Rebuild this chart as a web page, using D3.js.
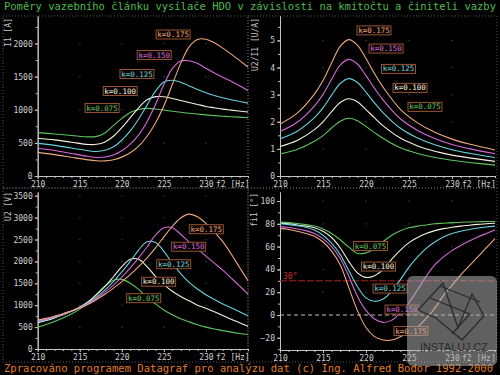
<!DOCTYPE html>
<html>
<head>
<meta charset="utf-8">
<script src="https://cdn.jsdelivr.net/npm/d3@7"></script>
<style>
body{margin:0;background:#000;}
svg{display:block;}
</style>
</head>
<body>
<div id="chart"></div>
<script>
// serie (cinitel vazby k)
var kLabels = ["k=0.075", "k=0.100", "k=0.125", "k=0.150", "k=0.175"];
var kColors = ["#5cc45c", "#f2f2dc", "#66d2dc", "#d468d8", "#f0a87c"];

// osa x - kmitocet f2 [Hz]
var xTicks = [210, 215, 220, 225, 230];

// I1 [A]
var freqI1 = [210,212,214,216,217,218,219,220,221,222,223,224,225,226,227,228,229,230,231,232,233,235];
var i1_075 = [655,635,612,590,598,650,760,870,960,1005,1020,1012,995,978,962,948,935,922,912,903,895,880];
var i1_100 = [570,545,510,475,478,515,600,730,880,1030,1150,1198,1195,1170,1140,1110,1080,1050,1030,1010,995,965];
var i1_125 = [492,462,422,382,370,388,440,540,680,860,1070,1280,1420,1445,1415,1360,1305,1255,1215,1180,1150,1100];
var i1_150 = [420,385,340,297,280,286,318,380,480,620,820,1080,1380,1620,1735,1740,1700,1625,1555,1490,1430,1290];
var i1_175 = [357,322,282,243,230,228,245,285,350,450,600,800,1060,1380,1700,1950,2060,2065,2010,1930,1840,1645];
var i1Ticks = [0, 500, 1000, 1500, 2000];

// U2/I1 [U/A]
var freqZ = [210,212,214,215,216,217,218,219,220,221,222,224,226,228,230,232,235];
var z_075 = [0.82,0.98,1.28,1.49,1.77,2.02,2.13,2.04,1.83,1.60,1.38,1.04,0.83,0.68,0.58,0.50,0.40];
var z_100 = [1.09,1.31,1.71,2.00,2.37,2.71,2.85,2.74,2.45,2.14,1.85,1.40,1.11,0.91,0.77,0.67,0.54];
var z_125 = [1.37,1.65,2.15,2.51,2.98,3.41,3.59,3.45,3.09,2.69,2.33,1.76,1.40,1.15,0.97,0.84,0.68];
var z_150 = [1.64,1.98,2.58,3.01,3.57,4.09,4.30,4.13,3.70,3.23,2.80,2.11,1.68,1.38,1.16,1.01,0.82];
var z_175 = [1.92,2.32,3.02,3.52,4.17,4.78,5.03,4.83,4.33,3.77,3.27,2.46,1.96,1.61,1.36,1.18,0.96];
var zTicks = [0, 1, 2, 3, 4, 5];

// U2 [V]
var freqU2 = [210,211,212,213,214,215,216,217,218,219,220,221,222,223,224,225,226,227,228,229,230,231,232,233,234,235];
var u2_075 = [500,560,630,710,800,910,1050,1250,1440,1570,1590,1500,1360,1180,1030,890,780,690,620,555,500,455,420,385,355,330];
var u2_100 = [600,650,710,780,860,960,1080,1240,1430,1650,1880,2050,2050,1880,1660,1470,1320,1200,1100,1000,930,850,765,680,600,520];
var u2_125 = [620,665,720,785,860,950,1060,1190,1350,1540,1760,2000,2260,2450,2430,2230,1960,1720,1520,1370,1240,1130,1030,940,850,760];
var u2_150 = [640,680,735,795,865,945,1040,1160,1300,1460,1640,1850,2080,2330,2600,2770,2770,2620,2440,2280,2120,1960,1800,1620,1440,1255];
var u2_175 = [660,700,750,805,870,935,1020,1130,1250,1390,1540,1700,1880,2080,2310,2560,2800,2990,3080,3020,2870,2670,2450,2170,1860,1560];
var u2Ticks = [0, 500, 1000, 1500, 2000, 2500, 3000, 3500];

// fi1 [st]
var freqFi = [210,211,212,213,214,215,216,217,218,219,220,221,222,223,224,225,226,227,228,229,230,231,232,233,234,235];
var fi_075 = [81.5,81,80.3,79.3,78,75.5,71.5,66,59.5,54,54.5,58,64.5,70,74,76.5,78,79,80,80.5,81,81.3,81.6,81.8,82,82];
var fi_100 = [80.5,80,79,78,76.5,73.5,68,59,47,37,33,34.5,40,49,57,63.5,68,71.5,74,75.8,77,78,78.8,79.5,80,80.5];
var fi_125 = [80,79.3,78.3,77,74.5,70,63,53,39,25,15,12,14,21,31,42,51,58.5,64,68.5,71.5,73.5,75,76.3,77.2,78];
var fi_150 = [77.5,76.7,75.5,74,71.5,67,60,49.5,34,16.5,4,-3.5,-6.5,-4.5,2,11,22,34,44,51,56.5,61,65,68.5,71.5,74.5];
var fi_175 = [76,75,73.5,71.5,69,64,56,44,24,4,-11,-19,-22,-22,-19,-15,-10.5,-3,6,17,26,35,43,51,59,67];
var fiTicks = [-20, 0, 20, 40, 60, 80, 100];
var fiLimit = 30;

// umisteni popisku k=... v souradnicich grafu [f, hodnota]
var i1Notes = [[217.65,1026],[219.8,1283],[221.8,1540],[223.85,1826],[226.1,2136]];
var zNotes  = [[226.86,2.55],[225.12,3.25],[223.78,3.95],[222.33,4.70],[220.93,5.37]];
var u2Notes = [[222.6,1160],[224.38,1537],[226.17,1936],[227.95,2336],[230.04,2735]];
var fiNotes = [[220.52,60.5],[221.45,42.5],[222.79,23.2],[224.19,4.8],[225.23,-14]];

var width = 500, height = 375;
var font = "'DejaVu Sans Mono', 'Liberation Mono', monospace";
var axisColor = "#c4c4c4";

var svg = d3.select("#chart").append("svg")
    .attr("width", width)
    .attr("height", height)
    .style("background", "#000");

// teckovane ramecky
var frames = [[3,16,245,172],[248,16,249,172],[3,188,245,174],[248,188,249,174]];
svg.append("g").selectAll("rect").data(frames).enter().append("rect")
    .attr("x", function(d){ return d[0]; })
    .attr("y", function(d){ return d[1]; })
    .attr("width", function(d){ return d[2]; })
    .attr("height", function(d){ return d[3]; })
    .attr("fill", "none")
    .attr("stroke", "#6e6e6e")
    .attr("stroke-width", 0.8)
    .attr("stroke-dasharray", "1,2");

function drawPanel(p) {
    var x = d3.scaleLinear().domain([210, 235]).range(p.xr);
    var y = d3.scaleLinear().domain(p.yd).range(p.yr);
    var g = svg.append("g");

    // body mrizky
    var dots = [];
    xTicks.forEach(function(a){ p.yTicks.forEach(function(b){ if (a > 210 && b !== p.yTicks[0]) dots.push([a,b]); }); });
    g.selectAll(".dot").data(dots).enter().append("rect")
        .attr("x", function(d){ return x(d[0]) - 0.5; })
        .attr("y", function(d){ return y(d[1]) - 0.5; })
        .attr("width", 1.2).attr("height", 1.2)
        .attr("fill", "#4a4a4a");

    // vedlejsi znacky
    var minorX = d3.range(210, 236, 1);
    var minorY = d3.range(p.yd[0] - p.yd[0] % p.minor, p.yd[1], p.minor).filter(function(v){ return v >= p.yd[0]; });
    g.append("g").attr("transform", "translate(0," + p.yr[0] + ")")
        .call(d3.axisBottom(x).tickValues(minorX).tickSize(2).tickSizeOuter(0).tickFormat(""));
    g.append("g").attr("transform", "translate(" + p.xr[0] + ",0)")
        .call(d3.axisLeft(y).tickValues(minorY).tickSize(2).tickSizeOuter(0).tickFormat(""));

    var ax = g.append("g").attr("transform", "translate(0," + p.yr[0] + ")")
        .call(d3.axisBottom(x).tickValues(xTicks).tickSize(3).tickSizeOuter(0).tickPadding(2).tickFormat(d3.format("d")));
    g.append("g").attr("transform", "translate(" + p.xr[0] + ",0)")
        .call(d3.axisLeft(y).tickValues(p.yTicks).tickSize(3).tickSizeOuter(0).tickPadding(2).tickFormat(d3.format("d")));

    g.selectAll(".domain, .tick line").attr("stroke", axisColor).attr("stroke-width", 1);
    g.selectAll(".tick text").attr("fill", "#d0d0d0").style("font-family", font).style("font-size", "8px");

    ax.append("text")
        .attr("x", x(230) + 10).attr("y", 5).attr("dy", "0.71em")
        .attr("text-anchor", "start")
        .attr("fill", "#d0d0d0").style("font-family", font).style("font-size", "8px")
        .text("f2 [Hz]");

    g.append("text")
        .attr("transform", "translate(" + p.titleX + "," + p.titleY + ") rotate(-90)")
        .attr("text-anchor", "end").attr("dominant-baseline", "middle")
        .attr("fill", "#c8c8c8").style("font-family", font).style("font-size", "8px")
        .text(p.title);

    if (p.extra) p.extra(g, x, y);

    var line = d3.line()
        .x(function(d){ return x(d[0]); })
        .y(function(d){ return y(d[1]); })
        .curve(d3.curveCatmullRom);

    p.series.forEach(function(vals, i) {
        g.append("path")
            .datum(p.freq.map(function(f, j){ return [f, vals[j]]; }))
            .attr("d", line)
            .attr("fill", "none")
            .attr("stroke", kColors[i])
            .attr("stroke-width", 1.1);
    });

    // popisky k=...
    p.notes.forEach(function(n, i) {
        var cx = x(n[0]), cy = y(n[1]);
        g.append("rect")
            .attr("x", cx - 17).attr("y", cy - 4.5)
            .attr("width", 34).attr("height", 9)
            .attr("fill", "#0a0503")
            .attr("stroke", "#a65a36").attr("stroke-width", 0.9);
        g.append("text")
            .attr("x", cx).attr("y", cy + 0.5)
            .attr("text-anchor", "middle").attr("dominant-baseline", "middle")
            .attr("fill", kColors[i])
            .style("font-family", font).style("font-size", "7.5px")
            .text(kLabels[i]);
    });
}

drawPanel({
    xr: [37.7, 248], yr: [176, 16], yd: [0, 2415], yTicks: i1Ticks, minor: 250,
    freq: freqI1, series: [i1_075, i1_100, i1_125, i1_150, i1_175], notes: i1Notes,
    title: "I1 [A]", titleX: 8, titleY: 18
});
drawPanel({
    xr: [280, 495], yr: [176, 16], yd: [0, 5.9], yTicks: zTicks, minor: 0.5,
    freq: freqZ, series: [z_075, z_100, z_125, z_150, z_175], notes: zNotes,
    title: "U2/I1 [U/A]", titleX: 255, titleY: 18
});
drawPanel({
    xr: [37.7, 248], yr: [349, 192], yd: [0, 3585], yTicks: u2Ticks, minor: 250,
    freq: freqU2, series: [u2_075, u2_100, u2_125, u2_150, u2_175], notes: u2Notes,
    title: "U2 [V]", titleX: 8, titleY: 192
});
drawPanel({
    xr: [280, 495], yr: [350, 192], yd: [-30.7, 107.9], yTicks: fiTicks, minor: 10,
    freq: freqFi, series: [fi_075, fi_100, fi_125, fi_150, fi_175], notes: fiNotes,
    title: "fi1 [\u00b0]", titleX: 254, titleY: 193,
    extra: function(g, x, y) {
        g.append("line")
            .attr("x1", x(210)).attr("x2", x(235))
            .attr("y1", y(0)).attr("y2", y(0))
            .attr("stroke", "#bdbdbd").attr("stroke-width", 1).attr("stroke-dasharray", "4,3");
        g.append("line")
            .attr("x1", x(210)).attr("x2", x(235))
            .attr("y1", y(fiLimit)).attr("y2", y(fiLimit))
            .attr("stroke", "#a82222").attr("stroke-width", 1).attr("stroke-dasharray", "7,2");
        g.append("text")
            .attr("x", x(210) + 3).attr("y", y(fiLimit) - 2)
            .attr("fill", "#c83030").style("font-family", font).style("font-size", "8px")
            .text(fiLimit + "\u00b0");
    }
});

// nadpis a zapati
svg.append("text")
    .attr("x", 4).attr("y", 10)
    .attr("textLength", 492).attr("lengthAdjust", "spacingAndGlyphs")
    .attr("fill", "#4cbc4c").style("font-family", font).style("font-size", "10px")
    .text("Poměry vazebního článku vysílače HDO v závislosti na kmitočtu a činiteli vazby");

svg.append("text")
    .attr("x", 4).attr("y", 372)
    .attr("textLength", 489).attr("lengthAdjust", "spacingAndGlyphs")
    .attr("fill", "#e07c24").style("font-family", font).style("font-size", "10px")
    .text("Zpracováno programem Datagraf pro analýzu dat  (c) Ing. Alfred Bodor 1992-2000");

// vodoznak
var wm = svg.append("g");
wm.append("rect")
    .attr("x", 407).attr("y", 276).attr("width", 90).attr("height", 90).attr("rx", 6)
    .attr("fill", "rgba(175,175,175,0.55)");
var logo = [
    [[418,310],[443,283],[458,328],[472,294],[484,316],[462,340],[436,318],[418,310]],
    [[430,298],[470,314],[452,334]],
    [[440,286],[480,302]]
];
wm.selectAll("path").data(logo).enter().append("path")
    .attr("d", d3.line())
    .attr("fill", "none").attr("stroke", "#2a2a2a").attr("stroke-width", 1.3);
wm.append("text")
    .attr("x", 420).attr("y", 351)
    .attr("textLength", 68).attr("lengthAdjust", "spacingAndGlyphs")
    .attr("fill", "#2a2a2a").style("font-family", "'Liberation Sans', Arial, sans-serif").style("font-size", "10px")
    .text("INSTALUJ.CZ");
</script>
</body>
</html>
